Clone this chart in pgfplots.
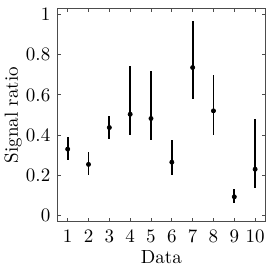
\documentclass[border=0pt]{standalone}
\usepackage{pgfplots}
\pgfplotsset{compat=1.18}
\begin{document}
\begin{tikzpicture}
\begin{axis}[
  name=ax,
  scale only axis,
  width=120pt, height=123pt,
  xmin=0.5, xmax=10.5,
  ymin=-0.03, ymax=1.03,
  xtick={1,...,10},
  ytick={0,0.2,0.4,0.6,0.8,1},
  yticklabels={0,0.2,0.4,0.6,0.8,1},
  tick align=inside,
  major tick length=2pt,
  axis line style={black!70, line width=0.6pt},
  every tick/.style={black!70, line width=0.5pt},
  tick label style={font=\fontsize{10.95}{13}\selectfont},
  label style={font=\fontsize{10.95}{13}\selectfont},
  xticklabel style={yshift=-1.5pt},
  yticklabel style={xshift=-0.5pt},
  xlabel={Data}, ylabel={Signal ratio},
  xlabel style={yshift=2.5pt},
  ylabel style={yshift=-4.5pt},
]
\addplot[black, only marks, mark=*, mark size=1.2pt,
  error bars/.cd, y dir=both, y explicit, error mark=none,
  error bar style={line width=1pt, black}]
table[x=x, y=y, y error plus=ep, y error minus=em] {
x y ep em
1 0.331 0.061 0.055
2 0.255 0.061 0.055
3 0.438 0.055 0.056
4 0.504 0.240 0.102
5 0.483 0.236 0.109
6 0.266 0.111 0.066
7 0.736 0.229 0.157
8 0.521 0.177 0.118
9 0.094 0.037 0.030
10 0.231 0.248 0.092
};
\end{axis}
\pgfresetboundingbox
\path[use as bounding box] ([xshift=-33pt,yshift=-29.5pt]ax.south west) rectangle ([xshift=4.2pt,yshift=4.8pt]ax.north east);
\end{tikzpicture}
\end{document}
